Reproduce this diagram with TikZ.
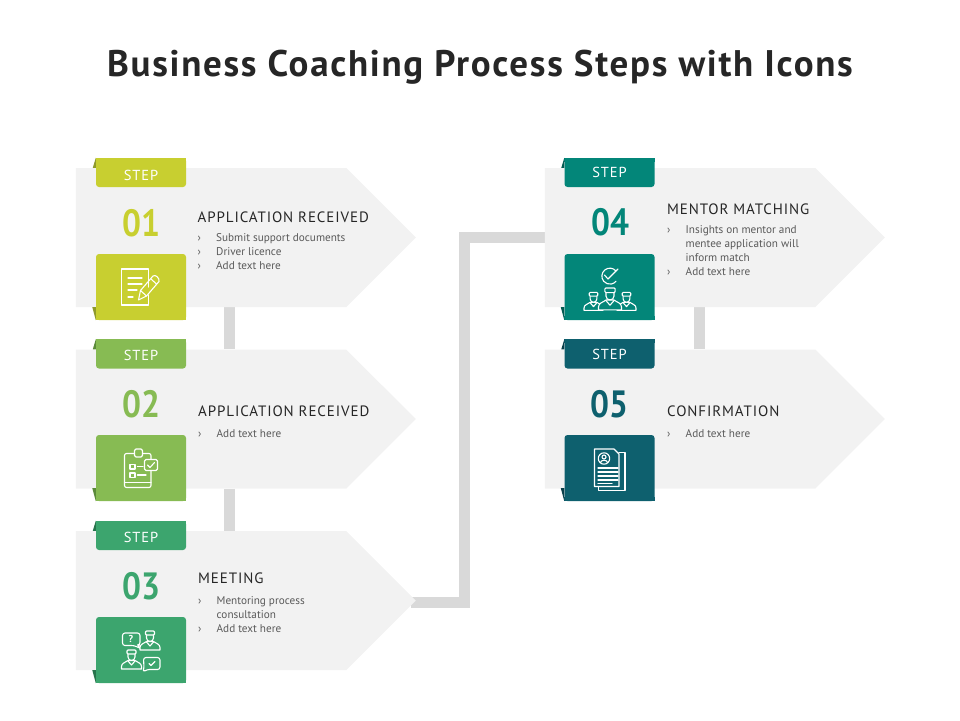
\documentclass[tikz,border=0pt]{standalone}
\usepackage{fontspec}
\setmainfont{PT Sans}
\newfontfamily\titlefont[LetterSpace=4.6]{PT Sans}
\newfontfamily\headfont[LetterSpace=6]{PT Sans}
\newfontfamily\tabfont[LetterSpace=6]{PT Sans}
\usetikzlibrary{shapes, backgrounds}
\definecolor{panelgrey}{HTML}{F2F2F2}
\definecolor{linegrey}{HTML}{D9D9D9}
\definecolor{titlegrey}{HTML}{262626}
\definecolor{bodygrey}{HTML}{595959}
\definecolor{stepone}{HTML}{C8CF30}
\definecolor{steptwo}{HTML}{87BB53}
\definecolor{stepthree}{HTML}{3CA56E}
\definecolor{stepfour}{HTML}{038679}
\definecolor{stepfive}{HTML}{0E606E}
\definecolor{foldone}{HTML}{8F9A2C}
\definecolor{foldtwo}{HTML}{5B8A3A}
\definecolor{foldthree}{HTML}{27744C}
\definecolor{foldfour}{HTML}{045B52}
\definecolor{foldfive}{HTML}{0A3F4A}
\tikzstyle{panel} = [signal, signal to=east, signal pointer angle=90, fill=panelgrey, minimum width=340pt, minimum height=139pt, inner sep=0pt]
\tikzstyle{connector} = [line width=11pt, draw=linegrey]
\tikzstyle{tabbox} = [rectangle, rounded corners=3pt, minimum width=90pt, minimum height=29pt, inner sep=0pt, text=white, font=\tabfont\fontsize{14.5}{14.5}\selectfont]
\tikzstyle{iconbox} = [rectangle, rounded corners=3pt, minimum width=90pt, minimum height=66pt, inner sep=0pt]
\tikzstyle{number} = [font=\bfseries\fontsize{38}{38}\selectfont, inner sep=0pt]
\tikzstyle{heading} = [anchor=west, inner sep=0pt, text=titlegrey, font=\headfont\fontsize{15}{15}\selectfont]
\tikzstyle{bullets} = [anchor=north west, inner sep=0pt, align=left, text=bodygrey, font=\fontsize{11.2}{14}\selectfont]
\tikzstyle{icon} = [draw=white, line width=1.1pt, line cap=round, line join=round]
\newcommand{\itm}{\makebox[18.5pt][l]{›}}
\newcommand{\itx}{\hspace*{18.5pt}}
% the digits are narrower than the font's
\newcommand{\numtext}[1]{\scalebox{.88}[1]{#1}}
% the word on a tab, lowered by #1 from its centre line
\newcommand{\steplabel}[1]{\raisebox{#1}[0pt][0pt]{STEP}}
% square off the rounded corners and add the two folds
\newcommand{\tabparts}[4]{
\fill[#3] (#1.north west) rectangle ([yshift=-4pt]#1.north east);
\fill[#3] (#2.south west) rectangle ([yshift=4pt]#2.south east);
\fill[#4] (#1.north west) -- ++(-3,10) -- ++(3,0) -- cycle;
\fill[#4] (#2.south west) -- ++(-3.5,-13) -- ++(3.5,0) -- cycle;
}
% person with a cap, head centre at #1
\newcommand{\iconperson}[3]{
\begin{scope}[shift={(#1)}, scale=#2]
\draw[icon, fill=#3] (-10,12) -- (-10,9.5) .. controls (-10,6) and (-6,5.5) .. (-3.5,3.5) -- (3.5,3.5) .. controls (6,5.5) and (10,6) .. (10,9.5) -- (10,12) -- cycle;
\draw[icon, fill=#3] (-3.5,-3) -- (-3.5,0) .. controls (-3.5,4.5) and (3.5,4.5) .. (3.5,0) -- (3.5,-3);
\draw[icon, fill=#3, rounded corners=1pt] (-4.5,-7) rectangle (4.5,-3);
\draw[icon] (-3.5,4) -- (0,8) -- (3.5,4);
\end{scope}
}

\begin{document}
\begin{tikzpicture}[x=1pt, y=-1pt, node distance=181.5pt]
\useasboundingbox (0,0) rectangle (960,720);
\node(title) [text=titlegrey, font=\titlefont\bfseries\fontsize{37}{37}\selectfont] at (480,67) {Business Coaching Process Steps with Icons};

\node(panel1) [panel] at (211,237.5) {};
\node(panel2) [panel, below of=panel1] {};
\node(panel3) [panel, below of=panel2] {};
\node(panel4) [panel] at (680,237.5) {};
\node(panel5) [panel, below of=panel4] {};

\begin{scope}[on background layer]
\draw[connector] ([xshift=18pt]panel1.south) -- ([xshift=18pt]panel2.north);
\draw[connector] ([xshift=18pt]panel2.south) -- ([xshift=18pt]panel3.north);
\draw[connector] ([xshift=19pt]panel4.south) -- ([xshift=19pt]panel5.north);
\draw[connector] ([xshift=-5pt, yshift=-2pt]panel3.east) -- ++(53,0) |- (panel4.west);
\end{scope}

% step 1
\node(tab1) [tabbox, fill=stepone] at (141,172.5) {\steplabel{-8pt}};
\node(icon1) [iconbox, fill=stepone] at (141,287) {};
\tabparts{tab1}{icon1}{stepone}{foldone}
\node(num1) [number, text=stepone] at (141,223) {\numtext{01}};
\node(head1) [heading] at (197.5,217) {APPLICATION RECEIVED};
\node(list1) [bullets] at (197.5,233.5) {\itm Submit support documents\\ \itm Driver licence\\ \itm Add text here};
\draw[icon] (148.5,287) -- (148.5,269) -- (121.5,269) -- (121.5,305) -- (148.5,305) -- (148.5,295);
\draw[icon] (128,278) -- (142,278) (128,284) -- (142,284) (128,290) -- (137,290) (128,297) -- (133,297);
\draw[icon] (138.5,300) -- (140.5,290.5) -- (153,276) .. controls (155,274) and (160,278) .. (159,281.5) -- (146.5,296) -- cycle;
\draw[icon] (140.5,290.5) -- (146.5,296) (151,279) -- (156.5,284);

% step 2
\node(tab2) [tabbox, fill=steptwo] at (141,354) {\steplabel{-6pt}};
\node(icon2) [iconbox, fill=steptwo] at (141,468) {};
\tabparts{tab2}{icon2}{steptwo}{foldtwo}
\node(num2) [number, text=steptwo] at (141,404) {\numtext{02}};
\node(head2) [heading] at (198,411.5) {APPLICATION RECEIVED};
\node(list2) [bullets] at (198,429.5) {\itm Add text here};
\draw[icon, rounded corners=2pt] (124.5,453.5) rectangle (151,487.5);
\draw[icon] (124.5,482.5) -- (151,482.5);
\draw[icon, fill=steptwo, rounded corners=1.5pt] (134.5,449) rectangle (142.5,457);
\draw[icon] (130,464.5) rectangle (135,469) (130,473) rectangle (135,477.5);
\draw[icon] (137.5,466.5) -- (143,466.5) (137.5,475) -- (146,475);
\draw[icon, fill=steptwo, rounded corners=1.5pt] (144.5,459.5) rectangle (157.5,470.5);
\draw[icon] (147.5,465) -- (150,467.5) -- (154.5,462.5);

% step 3
\node(tab3) [tabbox, fill=stepthree] at (141,535.5) {\steplabel{-6.5pt}};
\node(icon3) [iconbox, fill=stepthree] at (141,650) {};
\tabparts{tab3}{icon3}{stepthree}{foldthree}
\node(num3) [number, text=stepthree] at (141,586) {\numtext{03}};
\node(head3) [heading] at (198,578.5) {MEETING};
\node(list3) [bullets] at (198,596.5) {\itm Mentoring process\\ \itx consultation\\ \itm Add text here};
\draw[icon, rounded corners=2.5pt] (122.5,633) -- (140,633) -- (140,645) -- (137,645) -- (142,649) -- (134,645.5) -- (122.5,645.5) -- cycle;
\node(mark3) [text=white, inner sep=0pt, font=\bfseries\fontsize{10}{10}\selectfont] at (131,639) {?};
\iconperson{150,638}{1}{stepthree}
\draw[icon, fill=stepthree, rounded corners=2.5pt] (143.5,657.5) -- (160,657.5) -- (160,669.5) -- (147,669.5) -- (143,672) -- (144,668) -- cycle;
\draw[icon] (149,663.5) -- (151,665.5) -- (155,661.5);
\iconperson{131.5,657}{1}{stepthree}

% step 4
\node(tab4) [tabbox, fill=stepfour] at (609.5,172.5) {\steplabel{-5pt}};
\node(icon4) [iconbox, fill=stepfour] at (609.5,287) {};
\tabparts{tab4}{icon4}{stepfour}{foldfour}
\node(num4) [number, text=stepfour] at (610,222) {\numtext{04}};
\node(head4) [heading] at (667,209) {MENTOR MATCHING};
\node(list4) [bullets] at (667,225.5) {\itm Insights on mentor and\\ \itx mentee application will\\ \itx inform match\\ \itm Add text here};
\draw[icon] (616,271) arc (-40:-320:8);
\draw[icon] (604.5,275) -- (608,279) -- (618,269);
\iconperson{593.5,299}{.95}{stepfour}
\iconperson{626.5,299}{.95}{stepfour}
\iconperson{610,296}{1.15}{stepfour}

% step 5
\node(tab5) [tabbox, fill=stepfive] at (609.5,354) {\steplabel{-5pt}};
\node(icon5) [iconbox, fill=stepfive] at (609.5,468) {};
\tabparts{tab5}{icon5}{stepfive}{foldfive}
\node(num5) [number, text=stepfive] at (609,404) {\numtext{05}};
\node(head5) [heading] at (667,411.5) {CONFIRMATION};
\node(list5) [bullets] at (667,429.5) {\itm Add text here};
\draw[icon] (619,452.5) -- (625,452.5) -- (625,490.5) -- (598.5,490.5) -- (598.5,486.5);
\draw[icon] (594.5,449) -- (614,449) -- (619,454) -- (619,486.5) -- (594.5,486.5) -- cycle;
\draw[icon] (604,458.5) circle (5.7) (604,457) circle (2);
\draw[icon] (600.5,462.5) .. controls (601,459.5) and (607,459.5) .. (607.5,462.5);
\draw[icon] (598,468) -- (618,468) (598,472) -- (618,472) (598,476) -- (618,476) (598,480) -- (618,480) (598,483.5) -- (612,483.5);
\end{tikzpicture}
\end{document}
